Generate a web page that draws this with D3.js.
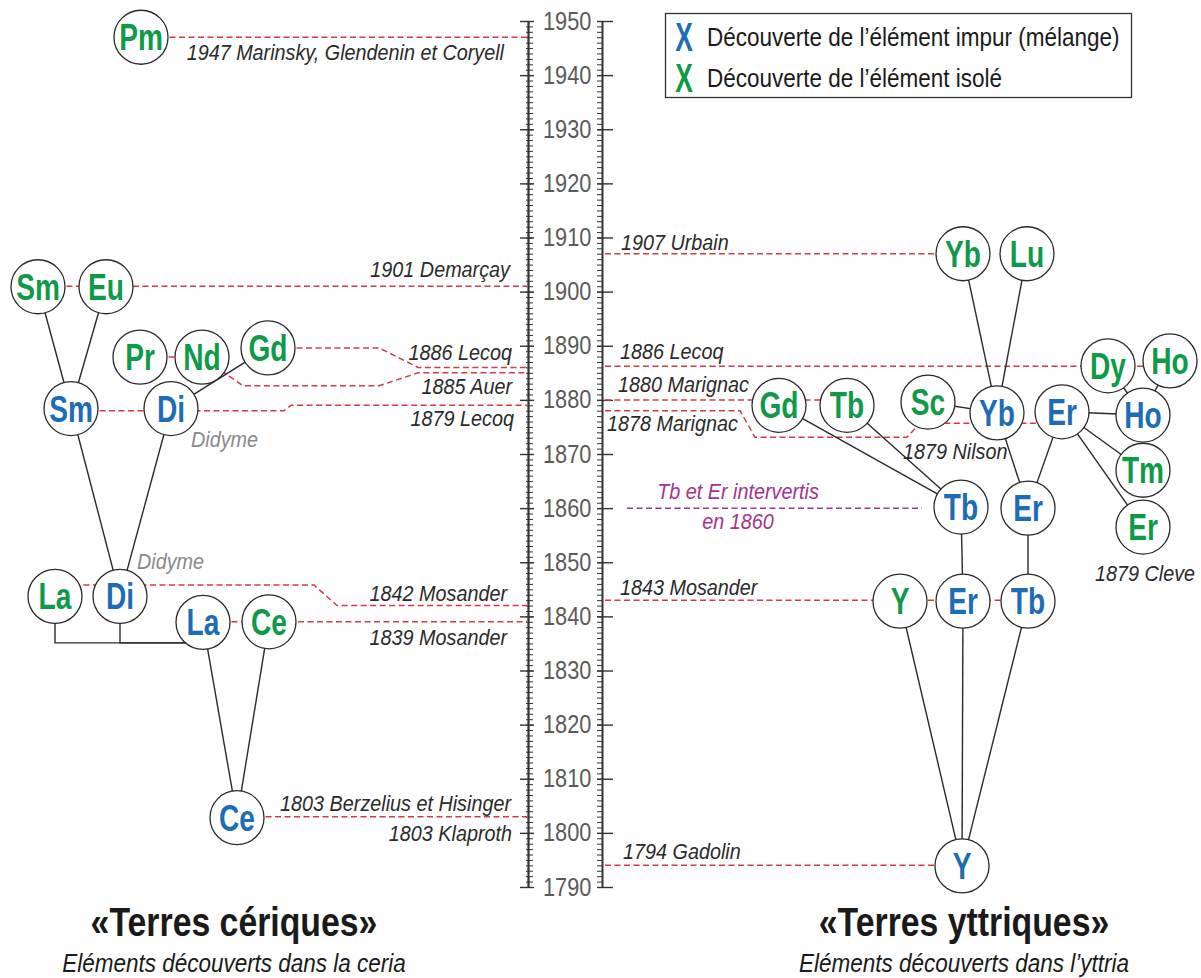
<!DOCTYPE html>
<html><head><meta charset="utf-8">
<script src="https://cdn.jsdelivr.net/npm/d3@7"></script>
<style>
body{margin:0;background:#fff;}
svg{display:block;font-family:"Liberation Sans",Arial,sans-serif;}
</style></head><body>
<svg id="c" width="1201" height="978"></svg>
<script>
// ================= DATA =================
const yearMajor = d3.range(1790, 1951, 10);
const yearMinor = d3.range(1790, 1951, 1);

// nodes: symbol, kind (imp = impure / mélange, iso = isolé), vertical position (year)
const symbols = ["Pm","Sm","Eu","Pr","Nd","Gd","Sm","Di","La","Di","La","Ce","Ce",
                 "Yb","Lu","Dy","Ho","Gd","Tb","Sc","Yb","Er","Ho","Tm","Er","Tb","Er","Y","Er","Tb","Y"];
const kinds   = ["iso","iso","iso","iso","iso","iso","imp","imp","iso","imp","imp","iso","imp",
                 "iso","iso","iso","iso","iso","iso","iso","imp","imp","imp","iso","iso","imp","imp","iso","imp","imp","imp"];
const nodeYears = [1947, 1900.9,1900.9, 1887.9,1887.9,1889.6, 1878.4,1878.4, 1843.7,1843.7, 1838.9,1839.0, 1802.8,
                   1907,1907, 1886.3,1887.2, 1879.0,1879.0,1879.6, 1877.6,1877.8,1877.2, 1867.0,1856.5,
                   1860.2,1860.0, 1842.8,1842.8,1842.8, 1793.9];
// filiation links (child -> parent) by node index
const links = [[1,6],[2,6],[5,7],[6,9],[7,9],[10,12],[11,12],
               [13,20],[14,20],[15,22],[16,22],[19,20],[21,22],[21,23],[21,24],
               [20,26],[21,26],[17,25],[18,25],[25,28],[26,29],[27,30],[28,30],[29,30]];
const bracketLinks = [[8,10],[9,10]];

// discovery leaders (years) and their texts
const labelsLeft  = ["1947 Marinsky, Glendenin et Coryell","1901 Demarçay","1886 Lecoq","1885 Auer",
                     "1879 Lecoq","1842 Mosander","1839 Mosander","1803 Berzelius et Hisinger","1803 Klaproth"];
const labelYearsLeft = [1947,1901,1886,1885,1879,1842,1839,1803,1803];
const labelsRight = ["1907 Urbain","1886 Lecoq","1880 Marignac","1878 Marignac","1843 Mosander","1794 Gadolin"];
const labelYearsRight = [1907,1886,1880,1878,1843,1794];
const nodeLabels = ["1879 Nilson","1879 Cleve"];
const swapYear = 1860;
const swapLines = ["Tb et Er intervertis","en 1860"];
const didymeText = "Didyme";
const legendTexts = ["Découverte de l’élément impur (mélange)","Découverte de l’élément isolé"];
const legendKinds = ["imp","iso"];
const titles = ["«Terres cériques»","«Terres yttriques»"];
const subtitles = ["Eléments découverts dans la ceria","Eléments découverts dans l’yttria"];

// ================= LAYOUT =================
const W = 1201, H = 978;
const x = d3.scaleLinear().domain([0, W]).range([0, W]);
const y = d3.scaleLinear().domain([1790, 1950]).range([887, 21]);
const RL = 528, RR = 602;       // left / right rulers
const R = 27;                    // node radius
const nodeX = [141, 38,106, 140,202,268, 71,171, 55,120, 203,269, 237,
               963,1027, 1108,1170, 779,847,928, 997,1062,1143, 1143,1143,
               961,1028, 900,963,1028, 962];
const bracketYear = 1835.1;
const col = {iso:"#0e9a48", imp:"#1c6db5", red:"#d63b45", purple:"#a2358f", line:"#2a2a2a", txt:"#2b2b2b"};

const leaderPathsLeft = [
  [[141,1947],[RL,1947]],
  [[38,1901],[RL,1901]],
  [[268,1889.6],[379,1889.6],[418,1886],[RL,1886]],
  [[140,1887.9],[202,1887.9],[243,1882.6],[379,1882.6],[418,1885],[RL,1885]],
  [[71,1878],[284,1878],[291,1879],[RL,1879]],
  [[55,1845.8],[314,1845.8],[337,1842],[RL,1842]],
  [[203,1839],[RL,1839]],
  [[237,1803],[RL,1803]]
];
const leaderPathsRight = [
  [[RR+3,1907],[963,1907]],
  [[RR+3,1886.2],[1170,1886.2]],
  [[RR+3,1880],[847,1880]],
  [[RR+3,1878],[740,1878],[755,1873.1],[907,1873.1],[920,1875.7],[1040,1875.7]],
  [[RR+3,1843],[1028,1843]],
  [[RR+3,1794],[962,1794]]
];
const labelPosLeft  = [[504,16],[510,-16],[512,-14],[512,14],[514,14],[507,-12],[507,16],[511,-13],[512,17]];
const labelPosRight = [[621,-11],[620,-15],[618,-15],[607,13],[620,-12],[623,-13]];
const nodeLabelPos = [[19, 903, 50, "start"], [24, 1145, 47, "middle"]];  // node index, x, dy, anchor

// horizontal condensing of a text selection (font is not narrow)
function cond(sel, s){
  sel.each(function(){
    const t = d3.select(this);
    const tx = +t.attr("x") || 0, ty = +t.attr("y") || 0;
    t.attr("x", 0).attr("y", 0).attr("transform", `translate(${tx},${ty}) scale(${s},1)`);
  });
}

// ================= DRAW =================
const svg = d3.select("#c");
const P = d3.line().x(d => x(d[0])).y(d => y(d[1]));

// rulers
function axisG(tx){ return svg.append("g").attr("transform",`translate(${tx},0)`); }
const styleAxis = (g, w) => { g.selectAll("line").attr("stroke","#333").attr("stroke-width",w); g.select(".domain").attr("stroke","#333").attr("stroke-width",1.4); g.selectAll("text").remove(); };
let g;
g = axisG(RL).call(d3.axisRight(y).tickValues(yearMinor).tickSize(5).tickSizeOuter(0)); styleAxis(g,1);
g = axisG(RL).call(d3.axisLeft(y).tickValues(yearMinor).tickSize(2).tickSizeOuter(0)); styleAxis(g,1);
g = axisG(RL).call(d3.axisLeft(y).tickValues(yearMajor).tickSize(8).tickSizeOuter(0)); styleAxis(g,1.4);
g = axisG(RL).call(d3.axisRight(y).tickValues(yearMajor).tickSize(6).tickSizeOuter(0)); styleAxis(g,1.4);
g = axisG(RR).call(d3.axisLeft(y).tickValues(yearMinor).tickSize(5).tickSizeOuter(0)); styleAxis(g,1);
g = axisG(RR).call(d3.axisRight(y).tickValues(yearMajor).tickSize(11).tickSizeOuter(0)); styleAxis(g,1.4);
g = axisG(RR).call(d3.axisLeft(y).tickValues(yearMajor).tickSize(5).tickSizeOuter(0)); styleAxis(g,1.4);
// year labels
g = axisG(RL).call(d3.axisRight(y).tickValues(yearMajor).tickSize(0).tickPadding(15).tickFormat(d3.format("d")));
g.select(".domain").remove();
g.selectAll("text").attr("font-size",25).attr("fill","#5a5a5a").attr("font-family","Liberation Sans, Arial, sans-serif").call(cond, 0.87);

// dashed leaders
svg.append("g").selectAll("path").data(leaderPathsLeft.concat(leaderPathsRight)).join("path")
  .attr("d", P).attr("fill","none").attr("stroke",col.red).attr("stroke-width",1.5).attr("stroke-dasharray","6,3.5");
svg.append("path").attr("d", P([[627,swapYear],[922,swapYear]])).attr("fill","none")
  .attr("stroke",col.purple).attr("stroke-width",1.5).attr("stroke-dasharray","6,3.5");

// links
const nodes = symbols.map((s,i) => ({s, k:kinds[i], cx:x(nodeX[i]), cy:y(nodeYears[i])}));
svg.append("g").selectAll("line").data(links).join("line")
  .attr("x1", d => nodes[d[0]].cx).attr("y1", d => nodes[d[0]].cy)
  .attr("x2", d => nodes[d[1]].cx).attr("y2", d => nodes[d[1]].cy)
  .attr("stroke", col.line).attr("stroke-width", 1.4);
svg.append("g").selectAll("path").data(bracketLinks).join("path")
  .attr("d", d => `M${nodes[d[0]].cx},${nodes[d[0]].cy}V${y(bracketYear)}H${nodes[d[1]].cx}`)
  .attr("fill","none").attr("stroke", col.line).attr("stroke-width", 1.4);

// nodes
const ng = svg.append("g").selectAll("g").data(nodes).join("g").attr("transform", d => `translate(${d.cx},${d.cy})`);
ng.append("circle").attr("r", R).attr("fill","#fff").attr("stroke","#2a2a2a").attr("stroke-width",1.3);
ng.append("text").text(d => d.s).attr("text-anchor","middle").attr("y", 13)
  .attr("font-size",37).attr("font-weight","bold").attr("fill", d => col[d.k]).call(cond, 0.76);

// leader labels
svg.append("g").selectAll("text").data(labelsLeft).join("text")
  .attr("x", (d,i) => labelPosLeft[i][0]).attr("y", (d,i) => y(labelYearsLeft[i]) + labelPosLeft[i][1] + 7)
  .attr("text-anchor","end").attr("font-style","italic").attr("font-size",22).attr("fill",col.txt).text(d => d).call(cond, 0.9);
svg.append("g").selectAll("text").data(labelsRight).join("text")
  .attr("x", (d,i) => labelPosRight[i][0]).attr("y", (d,i) => y(labelYearsRight[i]) + labelPosRight[i][1] + 7)
  .attr("text-anchor","start").attr("font-style","italic").attr("font-size",22).attr("fill",col.txt).text(d => d).call(cond, 0.9);
svg.append("g").selectAll("text").data(nodeLabels).join("text")
  .attr("x", (d,i) => nodeLabelPos[i][1]).attr("y", (d,i) => nodes[nodeLabelPos[i][0]].cy + nodeLabelPos[i][2] + 7)
  .attr("text-anchor", (d,i) => nodeLabelPos[i][3]).attr("font-style","italic").attr("font-size",22).attr("fill",col.txt).text(d => d).call(cond, 0.9);
// swap note
svg.append("g").selectAll("text").data(swapLines).join("text")
  .attr("x", 738).attr("y", (d,i) => y(swapYear) + (i ? 14 : -16) + 7)
  .attr("text-anchor","middle").attr("font-style","italic").attr("font-size",22).attr("fill",col.purple).text(d => d).call(cond, 0.9);
// Didyme
svg.append("g").selectAll("text").data([[191, nodes[7]], [137, nodes[9]]]).join("text")
  .attr("x", d => d[0]).attr("y", (d,i) => d[1].cy + (i ? -34 : 31) + 7)
  .attr("font-style","italic").attr("font-size",22).attr("fill","#8a8a8a").text(didymeText).call(cond, 0.9);

// legend
const lg = svg.append("g");
lg.append("rect").attr("x",665.5).attr("y",13.5).attr("width",466).attr("height",84).attr("fill","#fff").attr("stroke","#333").attr("stroke-width",1.3);
legendTexts.forEach((t,i) => {
  const yy = 37 + i*41;
  lg.append("text").attr("x",684).attr("y",yy + 14).attr("text-anchor","middle")
    .attr("font-size",40).attr("font-weight","bold").attr("fill",col[legendKinds[i]]).text("X").call(cond, 0.66);
  lg.append("text").attr("x",707).attr("y",yy + 9).attr("font-size",25).attr("fill","#1a1a1a").text(t).call(cond, 0.9);
});

// titles
[234, 964].forEach((cx,i) => {
  svg.append("text").attr("x",cx).attr("y",936).attr("text-anchor","middle")
    .attr("font-size",40).attr("font-weight","bold").attr("fill","#1a1a1a").text(titles[i]).call(cond, 0.845);
  svg.append("text").attr("x",cx).attr("y",972).attr("text-anchor","middle")
    .attr("font-size",25).attr("font-style","italic").attr("fill","#1a1a1a").text(subtitles[i]).call(cond, 0.9);
});
</script></body></html>
